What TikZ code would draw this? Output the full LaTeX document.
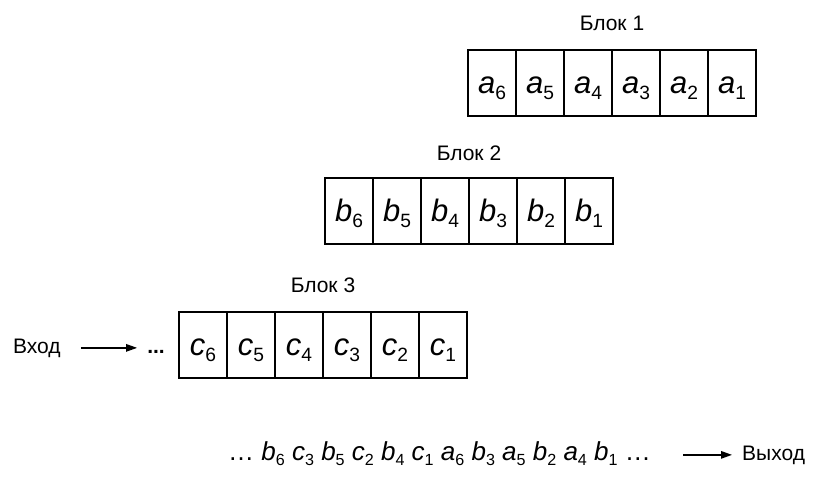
\documentclass[tikz,border=0pt]{standalone}
\usepackage{fontspec}
\setmainfont{Liberation Sans}
\usetikzlibrary{arrows.meta,positioning}
\newcommand{\cellsym}[2]{\textit{#1}\raisebox{-0.2em}{\fontsize{0.62em}{0.62em}\selectfont #2}}

\begin{document}
\begin{tikzpicture}[x=1pt, y=-1pt,
  cell/.style={draw, line width=2pt, minimum width=48pt, minimum height=66pt, inner sep=0pt, outer sep=0pt, text height=21pt, text depth=1pt, font=\fontsize{31}{31}\selectfont},
  lbl/.style={inner sep=0pt, font=\fontsize{21}{21}\selectfont},
  arr/.style={-{Triangle[length=11pt, width=7.5pt]}, line width=1.3pt}
]
  \useasboundingbox (0,0) rectangle (819,477);

  \node[cell, anchor=north west] (a6) at (468,50) {\cellsym{a}{6}};
  \node[cell, right=0pt of a6] (a5) {\cellsym{a}{5}};
  \node[cell, right=0pt of a5] (a4) {\cellsym{a}{4}};
  \node[cell, right=0pt of a4] (a3) {\cellsym{a}{3}};
  \node[cell, right=0pt of a3] (a2) {\cellsym{a}{2}};
  \node[cell, right=0pt of a2] (a1) {\cellsym{a}{1}};
  \node[lbl, above=19pt of a4.north east] (blk1) {Блок 1};

  \node[cell, anchor=north west] (b6) at (325,178) {\cellsym{b}{6}};
  \node[cell, right=0pt of b6] (b5) {\cellsym{b}{5}};
  \node[cell, right=0pt of b5] (b4) {\cellsym{b}{4}};
  \node[cell, right=0pt of b4] (b3) {\cellsym{b}{3}};
  \node[cell, right=0pt of b3] (b2) {\cellsym{b}{2}};
  \node[cell, right=0pt of b2] (b1) {\cellsym{b}{1}};
  \node[lbl, above=17pt of b4.north east] (blk2) {Блок 2};

  \node[cell, anchor=north west] (c6) at (179,312) {\cellsym{c}{6}};
  \node[cell, right=0pt of c6] (c5) {\cellsym{c}{5}};
  \node[cell, right=0pt of c5] (c4) {\cellsym{c}{4}};
  \node[cell, right=0pt of c4] (c3) {\cellsym{c}{3}};
  \node[cell, right=0pt of c3] (c2) {\cellsym{c}{2}};
  \node[cell, right=0pt of c2] (c1) {\cellsym{c}{1}};
  \node[lbl, above=19pt of c4.north east] (blk3) {Блок 3};

  \node[lbl, anchor=base west] (inp) at (13,353) {Вход};
  \node[lbl, anchor=base east] (dots) at (165,353) {\textbf{...}};
  \draw[arr] ([xshift=20pt]inp.east) -- ([xshift=-10pt]dots.west |- inp.east);

  \node[lbl, anchor=base west, font=\fontsize{26}{26}\selectfont] (seq) at (228,460)
    {\dots{} \cellsym{b}{6} \cellsym{c}{3} \cellsym{b}{5} \cellsym{c}{2} \cellsym{b}{4} \cellsym{c}{1} \cellsym{a}{6} \cellsym{b}{3} \cellsym{a}{5} \cellsym{b}{2} \cellsym{a}{4} \cellsym{b}{1} \dots};
  \node[lbl, anchor=base west] (out) at (742,460) {Выход};
  \draw[arr] ([xshift=-59pt]out.west) -- ([xshift=-10pt]out.west);
\end{tikzpicture}
\end{document}
